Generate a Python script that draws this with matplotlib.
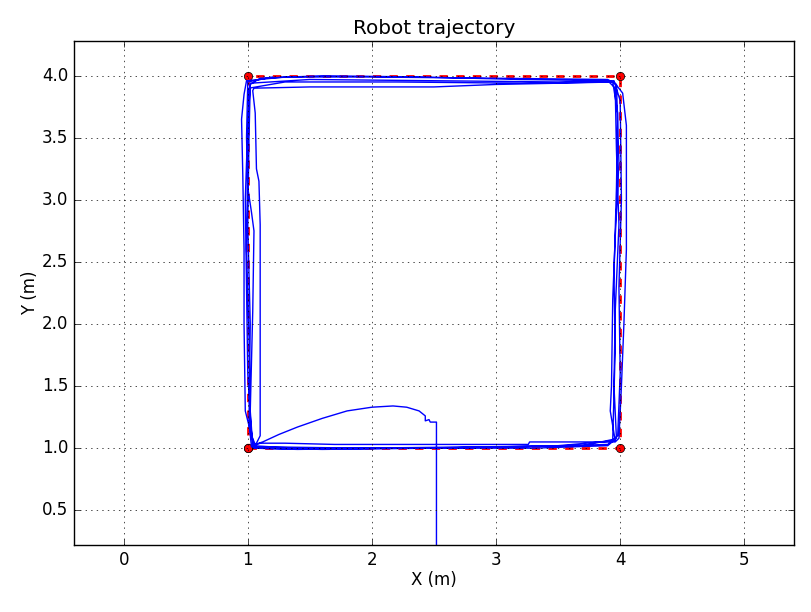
import numpy as np
import matplotlib
matplotlib.use("Agg")
import matplotlib.pyplot as plt

plt.style.use("classic")

# planned square (waypoints)
goal_x = [1.0, 4.0, 4.0, 1.0, 1.0]
goal_y = [1.0, 1.0, 4.0, 4.0, 1.0]

start_x = [2.52, 2.52, 2.47, 2.46, 2.43, 2.43, 2.38, 2.28, 2.17, 2.00, 1.80, 1.60, 1.40, 1.25, 1.12, 1.06]
start_y = [0.20, 1.21, 1.21, 1.23, 1.22, 1.26, 1.30, 1.33, 1.34, 1.33, 1.30, 1.24, 1.17, 1.11, 1.05, 1.03]

lap1_x = [1.03, 1.00, 0.99, 0.98, 1.00, 1.02, 1.10, 1.60, 2.40, 3.20, 3.90, 3.96, 3.97, 3.99, 3.96, 3.95, 3.97, 3.90, 3.30, 2.50, 1.60, 1.05]
lap1_y = [1.10, 1.60, 2.30, 3.00, 3.60, 3.93, 3.98, 4.00, 3.99, 3.97, 3.96, 3.90, 3.40, 2.80, 2.10, 1.50, 1.08, 1.02, 1.00, 1.00, 0.99, 1.00]

lap2_x = [1.10, 1.10, 1.10, 1.09, 1.07, 1.06, 1.04, 1.05, 1.50, 2.00, 2.50, 3.00, 3.50, 3.95, 4.02, 4.05, 4.05, 4.03, 4.01, 3.99, 3.96, 3.60, 3.27, 3.26, 2.50, 1.70, 1.30, 1.10, 1.05]
lap2_y = [1.10, 2.00, 2.80, 3.15, 3.25, 3.70, 3.88, 3.90, 3.91, 3.91, 3.91, 3.93, 3.94, 3.95, 3.86, 3.60, 2.60, 2.00, 1.50, 1.08, 1.05, 1.05, 1.05, 1.03, 1.03, 1.03, 1.04, 1.04, 1.02]

lap3_x = [0.98, 0.97, 0.97, 0.96, 0.95, 0.97, 0.99, 1.30, 2.00, 3.00, 3.90, 3.97, 3.99, 3.96, 3.94, 3.93, 3.92, 3.96, 3.50, 2.50, 1.50, 1.03]
lap3_y = [1.30, 2.00, 2.60, 3.20, 3.65, 3.85, 3.96, 3.99, 3.99, 3.98, 3.97, 3.93, 3.30, 2.70, 2.20, 1.50, 1.30, 1.06, 1.02, 1.00, 1.00, 1.01]

lap4_x = [1.01, 1.02, 1.00, 1.01, 1.02, 1.50, 2.50, 3.50, 3.95, 4.00, 4.01, 3.99, 4.00, 3.98, 3.90, 3.20, 2.20, 1.40, 1.05]
lap4_y = [1.20, 2.00, 2.80, 3.50, 3.94, 3.97, 3.96, 3.95, 3.96, 3.80, 3.00, 2.30, 1.60, 1.10, 1.03, 1.01, 1.00, 0.99, 1.00]

lap5_x = [1.02, 1.01, 0.99, 1.00, 1.01, 1.30, 2.20, 3.20, 3.94, 3.98, 3.97, 3.95, 3.96, 3.94, 3.70, 2.80, 1.90, 1.20, 1.04]
lap5_y = [1.20, 1.90, 2.60, 3.30, 3.90, 3.95, 3.95, 3.94, 3.95, 3.70, 3.10, 2.40, 1.80, 1.07, 1.02, 1.01, 1.00, 1.01, 1.02]

lap6_x = [1.02, 1.04, 1.05, 1.03, 1.00, 0.99, 1.00, 1.20]
lap6_y = [1.30, 2.10, 2.75, 2.90, 3.10, 3.50, 3.95, 3.99]

path_x = np.concatenate([start_x, lap1_x, lap2_x, lap3_x, lap4_x, lap5_x, lap6_x])
path_y = np.concatenate([start_y, lap1_y, lap2_y, lap3_y, lap4_y, lap5_y, lap6_y])

fig = plt.figure(figsize=(8.12, 6.12), dpi=100)
fig.subplots_adjust(left=0.0911, right=0.9778, bottom=0.1095, top=0.933)
ax = fig.add_subplot(111)

ax.plot(goal_x, goal_y, "r--o", linewidth=2)
ax.plot(path_x, path_y, "b-")

ax.set_xlim(-0.4, 5.4)
ax.set_ylim(0.22, 4.28)
ax.set_xticks([0, 1, 2, 3, 4, 5])
ax.set_yticks([0.5, 1.0, 1.5, 2.0, 2.5, 3.0, 3.5, 4.0])
ax.grid(True)

ax.set_title("Robot trajectory")
ax.set_xlabel("X (m)", labelpad=2)
ax.set_ylabel("Y (m)", labelpad=2)

fig.savefig("out.png", dpi=100, facecolor="white")
